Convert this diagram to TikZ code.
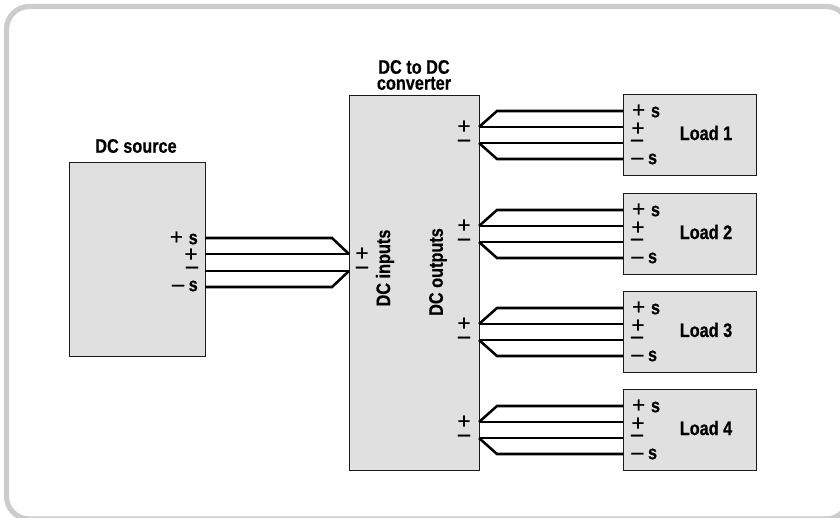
\documentclass[tikz,border=0pt]{standalone}
\usepackage{fontspec}
\setmainfont{Liberation Sans}[FakeStretch=0.85,BoldFeatures={FakeStretch=0.83,FakeBold=0.5}]
\newfontfamily\signfam{Liberation Sans}[FakeBold=1]
\definecolor{framegray}{HTML}{CCCCCC}
\definecolor{boxgray}{HTML}{E0E0E0}
\definecolor{linedark}{HTML}{1A1A1A}
\newcommand\lblsize{\fontsize{14.7}{12}\selectfont\bfseries}
\newcommand\signfont{\fontsize{16.5}{16}\signfam\mdseries\selectfont}
\begin{document}
\begin{tikzpicture}[
x=0.75pt,y=-0.75pt,
unitbox/.style={draw=linedark,fill=boxgray,line width=0.9pt,inner sep=0pt,anchor=north west},
wire/.style={black,line width=1.9pt,line join=miter},
lbl/.style={font=\lblsize,text=black,inner sep=0pt},
sign/.style={font=\signfont,text=black,inner sep=0pt}
]
\useasboundingbox (0,0) rectangle (840,518);
\begin{scope}
\clip (0,0) rectangle (840,518);
\draw[framegray,line width=3.9pt,rounded corners=17pt] (6.5,6.5) rectangle (849,519);
\end{scope}

\node[unitbox,minimum width=136*0.75pt,minimum height=194*0.75pt] (source) at (69,162) {};
\node[unitbox,minimum width=130*0.75pt,minimum height=375*0.75pt] (conv) at (349,95) {};
\node[lbl] (sourcename) at (136,146) {DC source};
\node[lbl,align=center] (convname) at (414,75) {DC to DC\\converter};
\node[lbl,rotate=90] (inname) at (385,268) {DC inputs};
\node[lbl,rotate=90] (outname) at (438,272) {DC outputs};

% source side
\coordinate (sa) at (205,238);
\coordinate (sb) at (205,254);
\coordinate (sc) at (205,271);
\coordinate (sd) at (205,287);
\coordinate (ca) at (332,238);
\coordinate (cb) at (349,254);
\coordinate (cc) at (349,271);
\coordinate (cd) at (332,287);
\draw[wire] (sa) -- (ca) -- (cb);
\draw[wire] (sb) -- (cb);
\draw[wire] (sc) -- (cc);
\draw[wire] (sd) -- (cd) -- (cc);
\node[lbl,anchor=east] (splus) at (198,238) {{\signfont+}\kern1pt\ s};
\node[sign] (sp) at (191,255) {+};
\node[sign] (sm) at (192,270) {–};
\node[lbl,anchor=east] (sminus) at (198,286) {{\signfont–} s};
\node[sign] (cp) at (362,254) {+};
\node[sign] (cm) at (362,270) {–};

% loads
\foreach \n/\y in {1/94,2/193,3/291,4/389}{
\node[unitbox,minimum width=133*0.75pt,minimum height=81*0.75pt] (load\n) at (623,\y) {};
\node[lbl] (loadname\n) at (706,\y+39) {Load \n};
\coordinate (la\n) at (623,\y+17);
\coordinate (lb\n) at (623,\y+33);
\coordinate (lc\n) at (623,\y+49);
\coordinate (ld\n) at (623,\y+65);
\coordinate (ka\n) at (497,\y+17);
\coordinate (kd\n) at (497,\y+65);
\coordinate (ob\n) at (479,\y+33);
\coordinate (oc\n) at (479,\y+49);
\draw[wire] (la\n) -- (ka\n) -- (ob\n);
\draw[wire] (lb\n) -- (ob\n);
\draw[wire] (lc\n) -- (oc\n);
\draw[wire] (ld\n) -- (kd\n) -- (oc\n);
\node[sign] (op\n) at (464,\y+33) {+};
\node[sign] (om\n) at (464,\y+49) {–};
\node[lbl,anchor=west] (lplus\n) at (632,\y+17) {{\signfont+}\kern1pt\ s};
\node[sign] (lp\n) at (638,\y+35) {+};
\node[sign] (lm\n) at (637,\y+49) {–};
\node[lbl,anchor=west] (lminus\n) at (631,\y+65) {{\signfont–} s};
}
\end{tikzpicture}
\end{document}
